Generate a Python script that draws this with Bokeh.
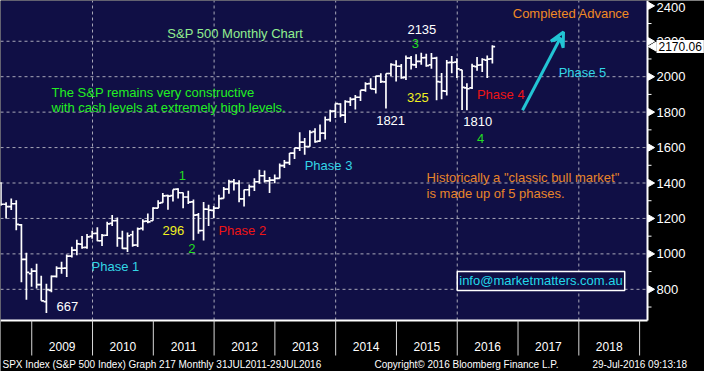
import math
import pandas as pd
from bokeh.plotting import figure
from bokeh.models import Label, Arrow, VeeHead, ColumnDataSource
from bokeh.core.properties import value
from bokeh.embed import file_html
from bokeh.resources import INLINE

# ---------------- data (monthly OHLC, Jun 2008 - Jul 2016) ----------------
first_month = "2008-06-30"
opens = [1400, 1280, 1267, 1283, 1164, 969, 888,
         903, 826, 730, 794, 873, 919, 920, 987, 1021, 1055, 1037, 1099,
         1116, 1074, 1105, 1172, 1188, 1088, 1031, 1108, 1050, 1144, 1185, 1187,
         1258, 1289, 1329, 1329, 1366, 1345, 1321, 1293, 1220, 1132, 1252, 1246,
         1258, 1313, 1366, 1408, 1398, 1310, 1362, 1379, 1407, 1441, 1412, 1416,
         1426, 1498, 1515, 1569, 1597, 1631, 1606, 1690, 1636, 1682, 1758, 1806,
         1846, 1783, 1858, 1873, 1884, 1924, 1961, 1930, 2004, 1971, 2018, 2066,
         2059, 1996, 2105, 2067, 2087, 2108, 2067, 2105, 1970, 1919, 2081, 2082,
         2039, 1937, 1937, 2057, 2067, 2094, 2100]
highs = [1404, 1292, 1313, 1303, 1168, 1007, 919,
         944, 876, 832, 878, 930, 956, 997, 1040, 1080, 1101, 1112, 1130,
         1150, 1112, 1181, 1220, 1206, 1131, 1120, 1130, 1149, 1196, 1228, 1263,
         1303, 1344, 1333, 1364, 1370, 1346, 1356, 1307, 1230, 1293, 1277, 1270,
         1334, 1378, 1419, 1422, 1415, 1363, 1392, 1427, 1475, 1470, 1434, 1448,
         1510, 1530, 1570, 1598, 1687, 1654, 1698, 1709, 1730, 1776, 1813, 1849,
         1850, 1867, 1884, 1897, 1924, 1968, 1991, 2005, 2019, 2018, 2076, 2093,
         2072, 2120, 2117, 2126, 2135, 2130, 2133, 2113, 2021, 2094, 2117, 2104,
         2039, 1963, 2073, 2111, 2104, 2120, 2178]
lows = [1272, 1200, 1248, 1133, 840, 741, 815,
        805, 735, 667, 783, 866, 888, 869, 979, 992, 1029, 1029, 1085,
        1071, 1045, 1101, 1157, 1040, 1029, 1011, 1040, 1039, 1132, 1173, 1187,
        1257, 1289, 1249, 1295, 1312, 1258, 1282, 1077, 1114, 1075, 1158, 1202,
        1258, 1312, 1340, 1357, 1291, 1267, 1325, 1355, 1396, 1403, 1343, 1398,
        1426, 1485, 1502, 1536, 1581, 1560, 1605, 1627, 1633, 1646, 1746, 1767,
        1771, 1738, 1834, 1815, 1863, 1915, 1930, 1905, 1964, 1821, 2002, 1973,
        1988, 1981, 2040, 2049, 2068, 2056, 2045, 1867, 1872, 1894, 2020, 1993,
        1812, 1810, 1931, 2034, 2026, 1992, 2074]
closes = [1280, 1267, 1283, 1166, 969, 896, 903,
          826, 735, 798, 873, 919, 919, 987, 1021, 1057, 1036, 1096, 1115,
          1074, 1104, 1169, 1187, 1089, 1031, 1102, 1049, 1141, 1183, 1181, 1258,
          1286, 1327, 1326, 1364, 1345, 1321, 1292, 1219, 1131, 1253, 1247, 1258,
          1312, 1366, 1408, 1398, 1310, 1362, 1379, 1407, 1441, 1412, 1416, 1426,
          1498, 1515, 1569, 1598, 1631, 1606, 1686, 1633, 1682, 1757, 1806, 1848,
          1783, 1859, 1872, 1884, 1924, 1960, 1931, 2003, 1972, 2018, 2068, 2059,
          1995, 2105, 2068, 2086, 2107, 2063, 2104, 1972, 1920, 2079, 2080, 2044,
          1940, 1932, 2060, 2065, 2097, 2099, 2170]
last_price = 2170.06

year_labels = [str(y) for y in range(2009, 2019)]
price_ticks = [800, 1000, 1200, 1400, 1600, 1800, 2000, 2200, 2400]
price_minor = list(range(700, 2500, 100))
grid_years = [2010, 2012, 2014, 2016, 2018]

ann_text = ["S&P 500 Monthly Chart", "2135", "3", "Completed Advance", "Phase 5",
            "The S&P remains very constructive",
            "with cash levels at extremely high levels.",
            "1821", "325", "Phase 4", "1810", "4", "1", "Phase 3",
            'Historically a "classic bull market"', "is made up of 5 phases.",
            "296", "Phase 2", "2", "Phase 1", "667"]
ann_x = [2011.231, 2015.180, 2015.252, 2016.913, 2017.668,
         2009.326, 2009.326,
         2014.666, 2015.175, 2016.324, 2016.100, 2016.324, 2011.419, 2013.490,
         2015.496, 2015.496,
         2011.151, 2012.071, 2011.573, 2009.984, 2009.406]
ann_y = [2241, 2268, 2185, 2357, 2023,
         1913, 1826,
         1752, 1883, 1901, 1748, 1650, 1440, 1498,
         1430, 1342,
         1130, 1130, 1028, 928, 705]
ann_color = ["#90ee90", "#ffffff", "#22dd22", "#f08a24", "#33d6e6",
             "#22ee22", "#22ee22",
             "#ffffff", "#f0f020", "#ee1515", "#ffffff", "#22dd22", "#22dd22", "#33d6e6",
             "#e8852a", "#e8852a",
             "#f0f020", "#ee1515", "#22dd22", "#33d6e6", "#ffffff"]

arrow_start = (2017.074, 1811)
arrow_end = (2017.748, 2252)
info_text = "info@marketmatters.com.au"
info_pos = (2016.00, 847)

footer = ["SPX Index (S&P 500 Index) Graph 217  Monthly 31JUL2011-29JUL2016",
          "Copyright\u00a9 2016 Bloomberg Finance L.P.",
          "29-Jul-2016 09:13:18"]
footer_px = [2, 374, 592]

# ---------------- geometry ----------------
W, H = 704, 371
FW, FH = 647, 320          # plotting area (px) inside the figure
X0, X1 = 2008.486, 2019.13  # visible time range of the plotting area
Y0, Y1 = 624, 2430          # visible price range of the plotting area
SX = (X1 - X0) / FW         # data per px
SY = (Y1 - Y0) / FH
NAVY = "#100f45"
FONT = "Liberation Sans"

p = figure(width=W, height=H, x_range=(X0, X0 + W * SX), y_range=(Y1 - H * SY, Y1),
           output_backend="svg", toolbar_location=None, min_border=0,
           background_fill_color="black", border_fill_color="black",
           outline_line_color=None)
p.axis.visible = False
p.grid.visible = False

# plotting area background
p.quad(left=[X0], right=[X1], bottom=[Y0], top=[Y1], fill_color=NAVY, line_color=None)

# dashed grid
p.segment(x0=grid_years, x1=grid_years, y0=[Y0] * len(grid_years), y1=[Y1] * len(grid_years),
          line_color="#a8a8b8", line_dash="3 3", line_width=1)
gy = price_ticks[:-1]
p.segment(x0=[X0] * len(gy), x1=[X1] * len(gy), y0=gy, y1=gy,
          line_color="#a8a8b8", line_dash="3 3", line_width=1)

# OHLC bars
months = pd.date_range(first_month, periods=len(opens), freq="ME")
t = months.year + (months.dayofyear - 2) / 365.0
tw = 0.045
src = ColumnDataSource(dict(x=t, x0=t - tw, x1=t + tw, o=opens, h=highs, l=lows, c=closes))
p.segment(x0="x", y0="l", x1="x", y1="h", source=src, line_color="white", line_width=1.7)
p.segment(x0="x0", y0="o", x1="x", y1="o", source=src, line_color="white", line_width=1.7)
p.segment(x0="x", y0="c", x1="x1", y1="c", source=src, line_color="white", line_width=1.7)

# axis lines
p.segment(x0=[X0, X1], x1=[X1, X1], y0=[Y0, Y0], y1=[Y0, Y1], line_color="white", line_width=2)

# bottom axis: boundary ticks at years, labels centred in each year
years = [int(y) for y in year_labels]
bt = years + [years[-1] + 1]
p.segment(x0=bt, x1=bt, y0=[Y0] * len(bt), y1=[Y0 - 35 * SY] * len(bt),
          line_color="#d8d8d8", line_width=1)
p.text(x=[y + 0.5 for y in years], y=[Y0 - 26 * SY] * len(years), text=year_labels,
       text_color="white", text_font=value(FONT), text_font_size="12px",
       text_align="center", text_baseline="middle")

# right axis
p.segment(x0=[X1] * len(price_minor), x1=[X1 + 4 * SX] * len(price_minor),
          y0=price_minor, y1=price_minor, line_color="white", line_width=1)
p.scatter(x=[X1 + 3 * SX] * len(price_ticks), y=price_ticks, marker="triangle",
          angle=-math.pi / 2, size=7, fill_color="white", line_color="white")
lab_off = [max(0.0, 7 - (Y1 - v) / SY) for v in price_ticks]
p.text(x=[X1 + 9 * SX] * len(price_ticks), y=price_ticks, y_offset=lab_off,
       text=[str(v) for v in price_ticks], text_color="white", text_font=value(FONT),
       text_font_size="13px", text_align="left", text_baseline="middle")

# annotation texts
asrc = ColumnDataSource(dict(x=ann_x, y=ann_y, text=ann_text, color=ann_color))
p.text(x="x", y="y", text="text", source=asrc, text_color="color",
       text_font=value(FONT), text_font_size="13px",
       text_align="left", text_baseline="middle")

p.add_layout(Arrow(x_start=arrow_start[0], y_start=arrow_start[1],
                   x_end=arrow_end[0], y_end=arrow_end[1],
                   line_color="#22c4d4", line_width=3,
                   end=VeeHead(size=14, line_color="#22c4d4", line_width=3,
                               fill_alpha=0)))

p.add_layout(Label(x=info_pos[0], y=info_pos[1], text=info_text,
                   text_color="#22d8ea", text_font=FONT, text_font_size="13px",
                   text_baseline="middle", background_fill_color=NAVY,
                   border_line_color="white", border_line_width=1.5, padding=2))

# last price box on the axis
p.scatter(x=[X1 + 6 * SX], y=[last_price], marker="triangle", angle=math.pi / 2,
          size=9, fill_color="white", line_color="white")
p.add_layout(Label(x=X1 + 9 * SX, y=last_price, text=f"{last_price:.2f}",
                   text_color="black", text_font=FONT, text_font_size="12px",
                   text_baseline="middle", text_align="left",
                   background_fill_color="white", padding=2))

# footer
p.text(x=[X0 + px * SX for px in footer_px], y=[Y0 - 44 * SY] * len(footer), text=footer,
       text_color="white", text_font=value(FONT),
       text_font_size="10px", text_align="left", text_baseline="middle")

open("out.html", "w").write(file_html(p, INLINE))
